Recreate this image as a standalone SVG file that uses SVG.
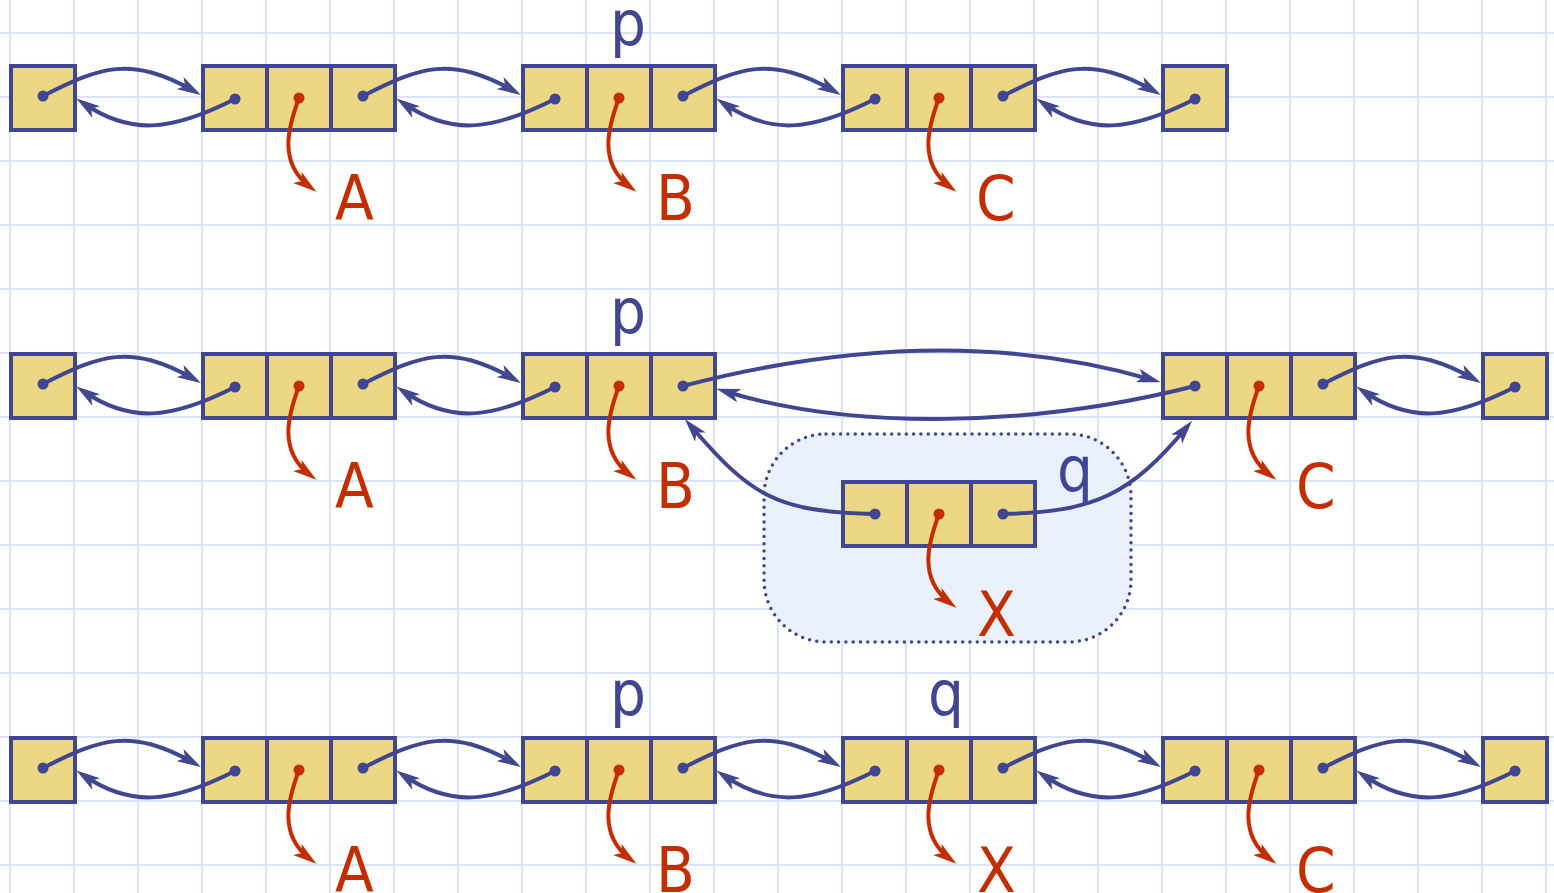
<svg xmlns="http://www.w3.org/2000/svg" width="1554" height="893" viewBox="0 0 1554 893">
<defs>
<style>
.grid{fill:none;stroke:#dae3fb;stroke-width:2.2}
.cell{fill:#ebd784;stroke:#40468f;stroke-width:4}
.bd{fill:#40468f}
.rd{fill:#c22e00}
.lk{fill:none;stroke:#40468f;stroke-width:4;marker-end:url(#ab)}
.rl{fill:none;stroke:#c22e00;stroke-width:4;marker-end:url(#ar)}
.lb{font-family:"Liberation Sans Narrow","DejaVu Sans Condensed","Liberation Sans",sans-serif;font-size:63px}
.tb{fill:#40468f}
.tr{fill:#c22e00}
.region{fill:#eaf0fc;stroke:#40468f;stroke-width:3.5;stroke-dasharray:0 7.3;stroke-linecap:round}
</style>
<marker id="ab" viewBox="0 0 24 14" markerWidth="24" markerHeight="14" refX="16" refY="7" orient="auto" markerUnits="userSpaceOnUse"><path d="M0,0 L24,7 L0,14 L6,7 Z" fill="#40468f"/></marker>
<marker id="ar" viewBox="0 0 24 14" markerWidth="24" markerHeight="14" refX="16" refY="7" orient="auto" markerUnits="userSpaceOnUse"><path d="M0,0 L24,7 L0,14 L6,7 Z" fill="#c22e00"/></marker>
</defs>
<rect width="1554" height="893" fill="#ffffff"/>
<path class="grid" d="M10,0V893M74,0V893M138,0V893M202,0V893M266,0V893M330,0V893M394,0V893M458,0V893M522,0V893M586,0V893M650,0V893M714,0V893M778,0V893M842,0V893M906,0V893M970,0V893M1034,0V893M1098,0V893M1162,0V893M1226,0V893M1290,0V893M1354,0V893M1418,0V893M1482,0V893M1546,0V893M0,33H1554M0,97H1554M0,161H1554M0,225H1554M0,289H1554M0,353H1554M0,417H1554M0,481H1554M0,545H1554M0,609H1554M0,673H1554M0,737H1554M0,801H1554M0,865H1554"/>
<rect id="insert-region" class="region" x="764" y="434" width="367" height="208" rx="62" ry="62"/>

<!-- Row 1 -->
<g id="r1-head"><rect class="cell" x="11" y="66" width="64" height="64"/><circle class="bd" cx="43" cy="96" r="5.5"/></g>
<g id="r1-A"><rect class="cell" x="203" y="66" width="64" height="64"/><rect class="cell" x="267" y="66" width="64" height="64"/><rect class="cell" x="331" y="66" width="64" height="64"/><circle class="bd" cx="235" cy="99" r="5.5"/><circle class="rd" cx="299" cy="98" r="5.5"/><circle class="bd" cx="363" cy="96" r="5.5"/></g>
<g id="r1-B"><rect class="cell" x="523" y="66" width="64" height="64"/><rect class="cell" x="587" y="66" width="64" height="64"/><rect class="cell" x="651" y="66" width="64" height="64"/><circle class="bd" cx="555" cy="99" r="5.5"/><circle class="rd" cx="619" cy="98" r="5.5"/><circle class="bd" cx="683" cy="96" r="5.5"/></g>
<g id="r1-C"><rect class="cell" x="843" y="66" width="64" height="64"/><rect class="cell" x="907" y="66" width="64" height="64"/><rect class="cell" x="971" y="66" width="64" height="64"/><circle class="bd" cx="875" cy="99" r="5.5"/><circle class="rd" cx="939" cy="98" r="5.5"/><circle class="bd" cx="1003" cy="96" r="5.5"/></g>
<g id="r1-tail"><rect class="cell" x="1163" y="66" width="64" height="64"/><circle class="bd" cx="1195" cy="99" r="5.5"/></g>

<!-- Row 2 -->
<g id="r2-head"><rect class="cell" x="11" y="354" width="64" height="64"/><circle class="bd" cx="43" cy="384" r="5.5"/></g>
<g id="r2-A"><rect class="cell" x="203" y="354" width="64" height="64"/><rect class="cell" x="267" y="354" width="64" height="64"/><rect class="cell" x="331" y="354" width="64" height="64"/><circle class="bd" cx="235" cy="387" r="5.5"/><circle class="rd" cx="299" cy="386" r="5.5"/><circle class="bd" cx="363" cy="384" r="5.5"/></g>
<g id="r2-B"><rect class="cell" x="523" y="354" width="64" height="64"/><rect class="cell" x="587" y="354" width="64" height="64"/><rect class="cell" x="651" y="354" width="64" height="64"/><circle class="bd" cx="555" cy="387" r="5.5"/><circle class="rd" cx="619" cy="386" r="5.5"/><circle class="bd" cx="683" cy="386" r="5.5"/></g>
<g id="r2-X"><rect class="cell" x="843" y="482" width="64" height="64"/><rect class="cell" x="907" y="482" width="64" height="64"/><rect class="cell" x="971" y="482" width="64" height="64"/><circle class="bd" cx="875" cy="514" r="5.5"/><circle class="rd" cx="939" cy="514" r="5.5"/><circle class="bd" cx="1003" cy="514" r="5.5"/></g>
<g id="r2-C"><rect class="cell" x="1163" y="354" width="64" height="64"/><rect class="cell" x="1227" y="354" width="64" height="64"/><rect class="cell" x="1291" y="354" width="64" height="64"/><circle class="bd" cx="1195" cy="386" r="5.5"/><circle class="rd" cx="1259" cy="386" r="5.5"/><circle class="bd" cx="1323" cy="384" r="5.5"/></g>
<g id="r2-tail"><rect class="cell" x="1483" y="354" width="64" height="64"/><circle class="bd" cx="1515" cy="387" r="5.5"/></g>

<!-- Row 3 -->
<g id="r3-head"><rect class="cell" x="11" y="738" width="64" height="64"/><circle class="bd" cx="43" cy="768" r="5.5"/></g>
<g id="r3-A"><rect class="cell" x="203" y="738" width="64" height="64"/><rect class="cell" x="267" y="738" width="64" height="64"/><rect class="cell" x="331" y="738" width="64" height="64"/><circle class="bd" cx="235" cy="771" r="5.5"/><circle class="rd" cx="299" cy="770" r="5.5"/><circle class="bd" cx="363" cy="768" r="5.5"/></g>
<g id="r3-B"><rect class="cell" x="523" y="738" width="64" height="64"/><rect class="cell" x="587" y="738" width="64" height="64"/><rect class="cell" x="651" y="738" width="64" height="64"/><circle class="bd" cx="555" cy="771" r="5.5"/><circle class="rd" cx="619" cy="770" r="5.5"/><circle class="bd" cx="683" cy="768" r="5.5"/></g>
<g id="r3-X"><rect class="cell" x="843" y="738" width="64" height="64"/><rect class="cell" x="907" y="738" width="64" height="64"/><rect class="cell" x="971" y="738" width="64" height="64"/><circle class="bd" cx="875" cy="771" r="5.5"/><circle class="rd" cx="939" cy="770" r="5.5"/><circle class="bd" cx="1003" cy="768" r="5.5"/></g>
<g id="r3-C"><rect class="cell" x="1163" y="738" width="64" height="64"/><rect class="cell" x="1227" y="738" width="64" height="64"/><rect class="cell" x="1291" y="738" width="64" height="64"/><circle class="bd" cx="1195" cy="771" r="5.5"/><circle class="rd" cx="1259" cy="770" r="5.5"/><circle class="bd" cx="1323" cy="768" r="5.5"/></g>
<g id="r3-tail"><rect class="cell" x="1483" y="738" width="64" height="64"/><circle class="bd" cx="1515" cy="771" r="5.5"/></g>

<g id="connectors">
<path class="lk" d="M43,96 C100,67 130,55 194,91"/>
<path class="lk" d="M235,99 C170,132 130,135 83,103"/>
<path class="lk" d="M363,96 C420,67 450,55 514,91"/>
<path class="lk" d="M555,99 C490,132 450,135 403,103"/>
<path class="lk" d="M683,96 C740,67 770,55 834,91"/>
<path class="lk" d="M875,99 C810,132 770,135 723,103"/>
<path class="lk" d="M1003,96 C1060,67 1090,55 1154,91"/>
<path class="lk" d="M1195,99 C1130,132 1090,135 1043,103"/>

<path class="lk" d="M43,384 C100,355 130,343 194,379"/>
<path class="lk" d="M235,387 C170,420 130,423 83,391"/>
<path class="lk" d="M363,384 C420,355 450,343 514,379"/>
<path class="lk" d="M555,387 C490,420 450,423 403,391"/>
<path class="lk" d="M683,386 C840,345 1000,335 1153,380"/>
<path class="lk" d="M1195,386 C1030,428 850,430 724,391"/>
<path class="lk" d="M875,514 C775,512 750,495 690,425"/>
<path class="lk" d="M1003,514 C1095,512 1130,495 1187,427"/>
<path class="lk" d="M1323,384 C1380,355 1410,343 1474,379"/>
<path class="lk" d="M1515,387 C1450,420 1410,423 1363,391"/>

<path class="lk" d="M43,768 C100,739 130,727 194,763"/>
<path class="lk" d="M235,771 C170,804 130,807 83,775"/>
<path class="lk" d="M363,768 C420,739 450,727 514,763"/>
<path class="lk" d="M555,771 C490,804 450,807 403,775"/>
<path class="lk" d="M683,768 C740,739 770,727 834,763"/>
<path class="lk" d="M875,771 C810,804 770,807 723,775"/>
<path class="lk" d="M1003,768 C1060,739 1090,727 1154,763"/>
<path class="lk" d="M1195,771 C1130,804 1090,807 1043,775"/>
<path class="lk" d="M1323,768 C1380,739 1410,727 1474,763"/>
<path class="lk" d="M1515,771 C1450,804 1410,807 1363,775"/>

<path class="rl" d="M299,98 C289,125 277,162 310,187"/>
<path class="rl" d="M619,98 C609,125 597,162 630,187"/>
<path class="rl" d="M939,98 C929,125 917,162 950,187"/>
<path class="rl" d="M299,386 C289,413 277,450 310,475"/>
<path class="rl" d="M619,386 C609,413 597,450 630,475"/>
<path class="rl" d="M939,514 C929,541 917,578 950,603"/>
<path class="rl" d="M1259,386 C1249,413 1237,450 1270,475"/>
<path class="rl" d="M299,770 C289,797 277,834 310,859"/>
<path class="rl" d="M619,770 C609,797 597,834 630,859"/>
<path class="rl" d="M939,770 C929,797 917,834 950,859"/>
<path class="rl" d="M1259,770 C1249,797 1237,834 1270,859"/>
</g>

<g id="labels" class="lb">
<text class="tb" x="610" y="45">p</text>
<text class="tr" x="335" y="220">A</text>
<text class="tr" x="656" y="220">B</text>
<text class="tr" x="976" y="220">C</text>
<text class="tb" x="610" y="333">p</text>
<text class="tr" x="335" y="508">A</text>
<text class="tr" x="656" y="508">B</text>
<text class="tb" x="1057" y="491">q</text>
<text class="tr" x="977" y="636">X</text>
<text class="tr" x="1296" y="508">C</text>
<text class="tb" x="610" y="715">p</text>
<text class="tb" x="928" y="715">q</text>
<text class="tr" x="335" y="892">A</text>
<text class="tr" x="656" y="892">B</text>
<text class="tr" x="977" y="892">X</text>
<text class="tr" x="1296" y="892">C</text>
</g>
</svg>
